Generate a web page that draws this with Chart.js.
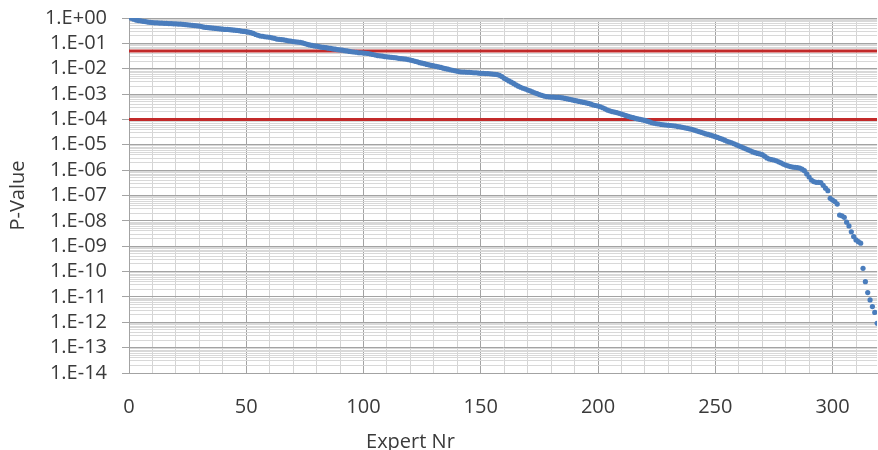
<!DOCTYPE html>
<html>
<head>
<meta charset="utf-8">
<title>P-Value per Expert</title>
<script src="https://cdn.jsdelivr.net/npm/chart.js@4.4.1/dist/chart.umd.min.js"></script>
<style>
  body { margin: 0; background: #fff; }
  canvas { display: block; }
</style>
</head>
<body>
<canvas id="graph" width="878" height="450"></canvas>
<script>
// log10 of the p-value of each expert, sorted, expert Nr 1..319
const logPValues = [
  -0.01, -0.05, -0.08, -0.10, -0.11, -0.13, -0.14, -0.16, -0.17, -0.18,
  -0.19, -0.19, -0.20, -0.20, -0.21, -0.21, -0.22, -0.22, -0.23, -0.23,
  -0.24, -0.24, -0.25, -0.26, -0.27, -0.28, -0.29, -0.30, -0.31, -0.32,
  -0.34, -0.36, -0.37, -0.38, -0.39, -0.40, -0.41, -0.42, -0.43, -0.44,
  -0.45, -0.45, -0.46, -0.47, -0.48, -0.49, -0.50, -0.52, -0.53, -0.54,
  -0.56, -0.58, -0.61, -0.65, -0.68, -0.71, -0.72, -0.74, -0.75, -0.76,
  -0.78, -0.80, -0.83, -0.84, -0.85, -0.86, -0.88, -0.90, -0.91, -0.93,
  -0.94, -0.95, -0.96, -0.98, -1.01, -1.04, -1.06, -1.08, -1.10, -1.11,
  -1.13, -1.15, -1.16, -1.17, -1.19, -1.20, -1.22, -1.23, -1.25, -1.26,
  -1.27, -1.29, -1.30, -1.32, -1.33, -1.34, -1.35, -1.37, -1.37, -1.38,
  -1.39, -1.40, -1.42, -1.44, -1.46, -1.48, -1.49, -1.50, -1.52, -1.53,
  -1.54, -1.55, -1.56, -1.57, -1.59, -1.60, -1.61, -1.62, -1.64, -1.66,
  -1.68, -1.71, -1.73, -1.76, -1.78, -1.80, -1.83, -1.85, -1.87, -1.89,
  -1.91, -1.93, -1.95, -1.98, -2.00, -2.02, -2.04, -2.06, -2.08, -2.10,
  -2.12, -2.13, -2.13, -2.14, -2.14, -2.15, -2.16, -2.16, -2.17, -2.18,
  -2.18, -2.19, -2.19, -2.20, -2.21, -2.22, -2.23, -2.26, -2.31, -2.38,
  -2.43, -2.48, -2.53, -2.58, -2.64, -2.69, -2.73, -2.77, -2.80, -2.84,
  -2.87, -2.91, -2.95, -2.98, -3.02, -3.05, -3.08, -3.10, -3.11, -3.12,
  -3.12, -3.13, -3.13, -3.14, -3.15, -3.17, -3.19, -3.21, -3.23, -3.25,
  -3.27, -3.29, -3.31, -3.33, -3.35, -3.37, -3.40, -3.43, -3.45, -3.47,
  -3.50, -3.54, -3.58, -3.63, -3.66, -3.69, -3.71, -3.73, -3.76, -3.79,
  -3.82, -3.85, -3.88, -3.91, -3.93, -3.96, -3.98, -4.00, -4.02, -4.04,
  -4.07, -4.10, -4.13, -4.15, -4.17, -4.18, -4.20, -4.21, -4.22, -4.23,
  -4.24, -4.25, -4.26, -4.28, -4.29, -4.31, -4.33, -4.35, -4.37, -4.39,
  -4.42, -4.45, -4.48, -4.51, -4.54, -4.57, -4.59, -4.62, -4.65, -4.68,
  -4.71, -4.75, -4.78, -4.82, -4.86, -4.89, -4.92, -4.96, -5.00, -5.04,
  -5.08, -5.12, -5.16, -5.20, -5.24, -5.28, -5.31, -5.34, -5.36, -5.39,
  -5.45, -5.52, -5.56, -5.58, -5.60, -5.63, -5.67, -5.71, -5.76, -5.80,
  -5.83, -5.86, -5.88, -5.89, -5.90, -5.92, -5.96, -6.02, -6.15, -6.27,
  -6.39, -6.45, -6.48, -6.48, -6.49, -6.60, -6.71, -6.81, -7.11, -7.18,
  -7.24, -7.34, -7.77, -7.80, -7.86, -8.05, -8.20, -8.43, -8.62, -8.75,
  -8.82, -8.88, -9.87, -10.40, -10.83, -11.12, -11.38, -11.61, -12.04
];

// significance levels drawn as red lines
const thresholds = [0.05, 1e-4];

const yTickLabels = [
  "1.E+00", "1.E-01", "1.E-02", "1.E-03", "1.E-04", "1.E-05", "1.E-06", "1.E-07",
  "1.E-08", "1.E-09", "1.E-10", "1.E-11", "1.E-12", "1.E-13", "1.E-14"
];
const xTickLabels = [0, 50, 100, 150, 200, 250, 300];

const X_MAX = 319;
const points = logPValues.map((lp, i) => ({ x: i + 1, y: Math.pow(10, lp) }));

// every decade plus 2..9 within it for the minor grid
const yGrid = [];
for (let e = -14; e < 0; e++) {
  for (let k = 1; k <= 9; k++) {
    yGrid.push({ value: k * Math.pow(10, e), decade: k === 1, exp: -e });
  }
}
yGrid.push({ value: 1, decade: true, exp: 0 });

const xGrid = [];
for (let v = 0; v <= 310; v += 10) {
  xGrid.push({ value: v, main: xTickLabels.includes(v) });
}

// axis title under the x axis
const xTitle = {
  id: "xTitle",
  afterDraw(chart) {
    const c = chart.ctx;
    const x = chart.scales.x.getPixelForValue(120);
    c.save();
    c.font = "20px 'Open Sans'";
    c.fillStyle = "#3a3a3a";
    c.textAlign = "center";
    c.textBaseline = "alphabetic";
    c.fillText("Expert Nr", x, 448);
    c.restore();
  }
};

const datasets = [
  {
    type: "scatter",
    label: "P-Value",
    data: points,
    backgroundColor: "#4a7dbd",
    borderWidth: 0,
    pointRadius: 2.6,
    order: 0
  }
];
thresholds.forEach((t) => {
  datasets.push({
    type: "line",
    label: "p = " + t,
    data: [{ x: 0, y: t }, { x: X_MAX, y: t }],
    borderColor: "#c22a2a",
    borderWidth: 3,
    pointRadius: 0,
    fill: false,
    order: 1
  });
});

const ctx = document.getElementById("graph").getContext("2d");
new Chart(ctx, {
  data: { datasets },
  plugins: [xTitle],
  options: {
    responsive: false,
    animation: false,
    devicePixelRatio: 1,
    layout: { autoPadding: false, padding: { top: 18, right: 0, bottom: 0, left: 0 } },
    plugins: {
      legend: { display: false },
      tooltip: { enabled: false }
    },
    scales: {
      x: {
        type: "linear",
        min: 0,
        max: X_MAX,
        afterBuildTicks: (scale) => { scale.ticks = xGrid.map((t) => ({ ...t })); },
        afterFit: (scale) => { scale.height = 77; },
        grid: {
          drawTicks: false,
          color: (c) => (c.tick && c.tick.main ? "#a3a3a3" : "#d4d4d4"),
          lineWidth: 1
        },
        border: { color: "#a3a3a3" },
        ticks: {
          autoSkip: false,
          maxRotation: 0,
          padding: 22,
          color: "#3a3a3a",
          font: { family: "'Open Sans'", size: 20 },
          callback: (v) => (xTickLabels.includes(v) ? String(v) : "")
        }
      },
      y: {
        type: "logarithmic",
        min: 1e-14,
        max: 1,
        afterBuildTicks: (scale) => { scale.ticks = yGrid.map((t) => ({ ...t })); },
        afterFit: (scale) => {
          scale.width = 129;
          scale.paddingTop = 0;
          scale.paddingBottom = 0;
        },
        grid: {
          tickLength: 7,
          color: (c) => (c.tick && c.tick.decade ? "#a3a3a3" : "#d8d8d8"),
          tickColor: (c) => (c.tick && c.tick.decade ? "#a3a3a3" : "rgba(0,0,0,0)"),
          lineWidth: 1
        },
        border: { color: "#a3a3a3" },
        ticks: {
          autoSkip: false,
          padding: 15,
          color: "#3a3a3a",
          font: { family: "'Open Sans'", size: 20 },
          callback: function (v, i) {
            const t = this.ticks[i];
            return t && t.decade ? yTickLabels[t.exp] : "";
          }
        },
        title: {
          display: true,
          text: "P-Value",
          color: "#3a3a3a",
          font: { family: "'Open Sans'", size: 20 },
          padding: { top: 6, bottom: 0 }
        }
      }
    }
  }
});
</script>
</body>
</html>
